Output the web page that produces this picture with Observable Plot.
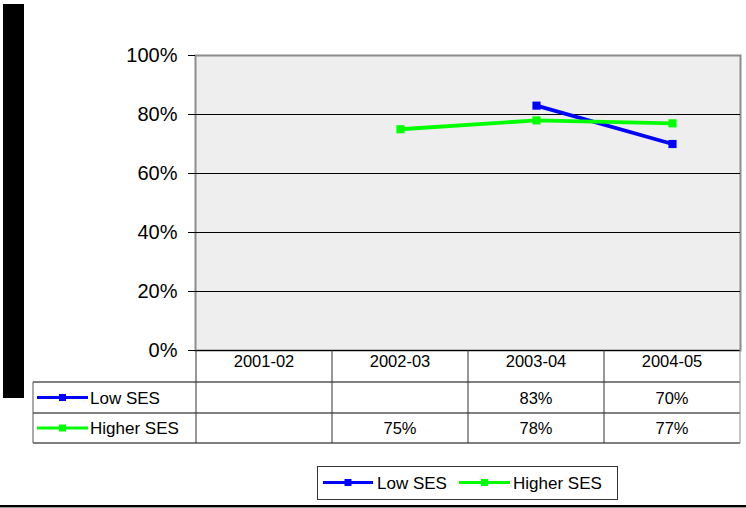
<!DOCTYPE html>
<html><head><meta charset="utf-8">
<script src="https://cdn.jsdelivr.net/npm/d3@7"></script>
<script src="https://cdn.jsdelivr.net/npm/@observablehq/plot@0.6"></script>
<style>body{margin:0;background:#fff;} #chart svg{display:block;}</style>
</head><body><div id="chart"></div>
<script>
const years = ["2001-02","2002-03","2003-04","2004-05"];
const seriesNames = ["Low SES","Higher SES"];
const lowSES = [null,null,0.83,0.70];
const higherSES = [null,0.75,0.78,0.77];
const yTicks = [0,0.2,0.4,0.6,0.8,1.0];
const colors = ["#0000ff","#00ff00"];

const seriesValues = [lowSES, higherSES];
const rows = [];
seriesValues.forEach((vals,i)=>vals.forEach((v,j)=>{ if(v!=null) rows.push({series:seriesNames[i], year:years[j], value:v}); }));

const font = "'Liberation Sans', Arial, sans-serif";
const pct = d3.format(".0%");
const plot = Plot.plot({
  width:746, height:508,
  marginLeft:195, marginRight:6, marginTop:55, marginBottom:158,
  style:{fontFamily:font, background:"#fff", color:"#000", overflow:"visible"},
  x:{type:"point", domain:years, padding:0.5, axis:null},
  y:{domain:[0,1], label:null},
  color:{domain:seriesNames, range:colors},
  marks:[
    Plot.frame({fill:"#eeeeee", stroke:"#8c8c8c", strokeWidth:2}),
    Plot.ruleY(yTicks.slice(0,-1), {stroke:"#000", strokeWidth:1}),
    Plot.axisY({ticks:yTicks, tickFormat:pct, tickSize:7, tickPadding:11, fontSize:20, label:null}),
    Plot.line(rows, {x:"year", y:"value", z:"series", stroke:"series", strokeWidth:3.8}),
    Plot.dot(rows, {x:"year", y:"value", fill:"series", symbol:"square", r:4.6})
  ]
});
document.getElementById("chart").appendChild(plot);

const svg = d3.select(plot);
const xs = plot.scale("x"), ys = plot.scale("y");
const centers = years.map(y=>xs.apply(y));
const step = centers[1]-centers[0];
const edges = [centers[0]-step/2, ...centers.map(c=>c+step/2)];
const y0 = ys.apply(0);
const rowY = [y0, 382, 413, 443];
const tableLeft = 33;
const right = edges[edges.length-1];

// decorative black bar and bottom rule
svg.insert("rect", ":first-child").attr("x",3).attr("y",4).attr("width",21).attr("height",394).attr("fill","#000");
svg.append("line").attr("x1",0).attr("x2",746).attr("y1",506).attr("y2",506).attr("stroke","#000").attr("stroke-width",2);
svg.append("line").attr("x1",0).attr("x2",746).attr("y1",507.5).attr("y2",507.5).attr("stroke","#999").attr("stroke-width",1);

const g = svg.append("g").attr("font-family", font).attr("fill","#000").attr("text-anchor","start");
const hline = (x1,x2,y,c="#000") => g.append("line").attr("x1",x1).attr("x2",x2).attr("y1",y).attr("y2",y).attr("stroke",c);
const vline = (x,y1,y2,c="#000") => g.append("line").attr("x1",x).attr("x2",x).attr("y1",y1).attr("y2",y2).attr("stroke",c);

// table grid
hline(tableLeft, right, rowY[1]);
hline(tableLeft, right, rowY[2]);
hline(tableLeft, right, rowY[3]);
edges.forEach((e,i)=> vline(e, y0, rowY[3], i===edges.length-1 ? "#8c8c8c" : "#333"));
vline(tableLeft, rowY[1], rowY[3], "#555");

// header
years.forEach((yr,i)=> g.append("text").attr("x",centers[i]).attr("y",y0+17).attr("text-anchor","middle").attr("font-size",16.5).text(yr));

// rows
function key(parent, x1, x2, y, color){
  parent.append("line").attr("x1",x1).attr("x2",x2).attr("y1",y).attr("y2",y).attr("stroke",color).attr("stroke-width",3);
  parent.append("rect").attr("x",(x1+x2)/2-3.5).attr("y",y-3.5).attr("width",7).attr("height",7).attr("fill",color);
}
seriesNames.forEach((name,i)=>{
  const cy = (rowY[i+1]+rowY[i+2])/2;
  key(g, 37, 88, cy, colors[i]);
  g.append("text").attr("x",90).attr("y",cy+6).attr("font-size",17).attr("text-anchor","start").text(name);
  seriesValues[i].forEach((v,j)=>{
    if(v!=null) g.append("text").attr("x",centers[j]).attr("y",cy+6).attr("text-anchor","middle").attr("font-size",16.5).text(pct(v));
  });
});

// bottom legend
const lg = svg.append("g").attr("font-family", font).attr("fill","#000").attr("text-anchor","start");
lg.append("rect").attr("x",317.5).attr("y",466.5).attr("width",300).attr("height",33).attr("fill","#fff").attr("stroke","#333");
const legX = [[323,373,377],[459,510,513]];
seriesNames.forEach((name,i)=>{
  key(lg, legX[i][0], legX[i][1], 482.5, colors[i]);
  lg.append("text").attr("x",legX[i][2]).attr("y",488.5).attr("font-size",17).attr("text-anchor","start").text(name);
});
</script>
</body></html>
